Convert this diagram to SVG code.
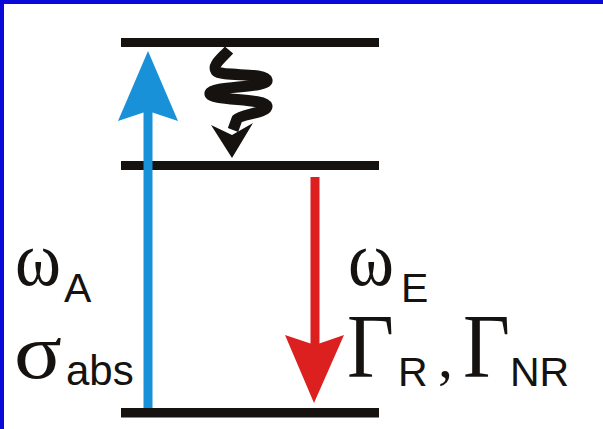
<svg xmlns="http://www.w3.org/2000/svg" width="603" height="429" viewBox="0 0 603 429">
  <style>
    .lvl { fill: #161210; }
    .serif { font-family: "Liberation Serif", "Times New Roman", serif; fill: #161210; }
    .sans { font-family: "Liberation Sans", Arial, sans-serif; fill: #161210; }
  </style>
  <rect x="0" y="0" width="603" height="429" fill="#ffffff"/>
  <rect x="0" y="0" width="603" height="4" fill="#0a0ad8"/>
  <rect x="0" y="0" width="4" height="429" fill="#0a0ad8"/>

  <g id="level-top"><rect class="lvl" x="121" y="38" width="258" height="9"/></g>
  <g id="level-mid"><rect class="lvl" x="121" y="161" width="258" height="9"/></g>
  <g id="level-bottom"><rect class="lvl" x="121" y="408" width="258" height="9.5"/></g>

  <g id="connectors">
    <g id="absorption">
      <rect x="143.5" y="110" width="9" height="298" fill="#1891d9"/>
      <path d="M148,51 L178,121 L148,111 L118,121 Z" fill="#1891d9"/>
    </g>
    <g id="relaxation">
      <path d="M229,50 C222,58 212,65 216,71 C222,77 265,72 267,80 C269,88 213,86 210,93 C208,101 265,98 267,106 C268,113 241,114 237,119 L233,130" fill="none" stroke="#161210" stroke-width="11" stroke-linecap="butt" stroke-linejoin="round"/>
      <path d="M232,158 L253,123 L232,135 L211,125 Z" fill="#161210"/>
    </g>
    <g id="emission">
      <rect x="310.5" y="177" width="9" height="170" fill="#dc2020"/>
      <path d="M314,403 L344,335 L315,345 L285,335 Z" fill="#dc2020"/>
    </g>
  </g>

  <g id="labels">
    <text class="serif" x="15" y="285" font-size="78" textLength="46" lengthAdjust="spacingAndGlyphs">ω</text>
    <text class="sans" x="64" y="302" font-size="41">A</text>
    <text class="serif" x="14" y="378" font-size="78" textLength="48" lengthAdjust="spacingAndGlyphs">σ</text>
    <text class="sans" x="66" y="385" font-size="42">abs</text>
    <text class="serif" x="348" y="285" font-size="78" textLength="46" lengthAdjust="spacingAndGlyphs">ω</text>
    <text class="sans" x="401" y="302" font-size="41">E</text>
    <text class="serif" x="347" y="377" font-size="90" textLength="47" lengthAdjust="spacingAndGlyphs">Γ</text>
    <text class="sans" x="398" y="386" font-size="41">R</text>
    <text class="serif" x="438" y="377" font-size="60">,</text>
    <text class="serif" x="463" y="377" font-size="90" textLength="47" lengthAdjust="spacingAndGlyphs">Γ</text>
    <text class="sans" x="510" y="386" font-size="41">NR</text>
  </g>
</svg>
